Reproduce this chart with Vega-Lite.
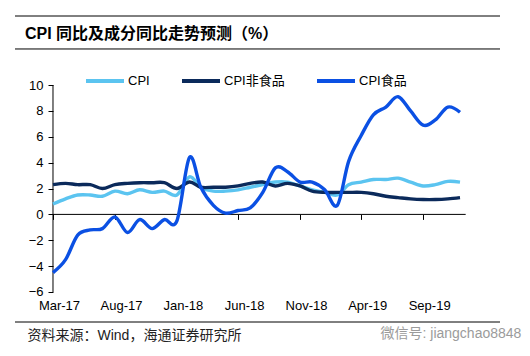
{
  "$schema": "https://vega.github.io/schema/vega-lite/v6.json",
  "width": 485,
  "height": 306,
  "autosize": {"type": "none"},
  "padding": {"left": 15, "top": 16, "right": 30, "bottom": 34},
  "background": "white",
  "config": {
    "view": {"stroke": null},
    "font": "Liberation Sans, Noto Sans CJK SC",
    "axis": {"labelOverlap": false}
  },
  "title": {
    "text": "CPI 同比及成分同比走势预测（%）",
    "anchor": "start",
    "frame": "group",
    "offset": -34,
    "dx": 10,
    "baseline": "middle",
    "fontSize": 16,
    "fontWeight": "bold",
    "font": "Liberation Sans, Noto Sans CJK SC",
    "color": "#000000"
  },
  "layer": [
    {
      "data": {"values": [{}]},
      "mark": {"type": "rule", "color": "#000000", "strokeWidth": 1},
      "encoding": {"y": {"datum": 15.34, "scale": {"domain": [-8.32, 15.34], "nice": false, "zero": false}}}
    },
    {
      "data": {"values": [{}]},
      "mark": {"type": "rule", "color": "#000000", "strokeWidth": 1},
      "encoding": {"y": {"datum": 12.79, "scale": {"domain": [-8.32, 15.34], "nice": false, "zero": false}}}
    },
    {
      "data": {"values": [{}]},
      "mark": {"type": "rule", "color": "#000000", "strokeWidth": 1},
      "encoding": {"y": {"datum": -8.32, "scale": {"domain": [-8.32, 15.34], "nice": false, "zero": false}}}
    },
    {
      "data": {"values": [{}]},
      "mark": {"type": "rule", "color": "#000000", "strokeWidth": 1},
      "encoding": {
        "x": {"datum": {"year": 2017, "month": 3, "date": 1, "utc": true}, "type": "temporal",
              "scale": {"type": "utc", "nice": false, "domain": [{"year": 2016, "month": 11, "date": 27, "hours": 5, "utc": true}, {"year": 2020, "month": 3, "date": 8, "hours": 18, "utc": true}]}},
        "y": {"datum": -6, "scale": {"domain": [-8.32, 15.34], "nice": false, "zero": false}},
        "y2": {"datum": 10}
      }
    },
    {
      "data": {"values": [{}]},
      "mark": {"type": "rule", "color": "#000000", "strokeWidth": 1},
      "encoding": {
        "x": {"datum": {"year": 2017, "month": 3, "date": 1, "utc": true}, "type": "temporal",
              "scale": {"type": "utc", "nice": false, "domain": [{"year": 2016, "month": 11, "date": 27, "hours": 5, "utc": true}, {"year": 2020, "month": 3, "date": 8, "hours": 18, "utc": true}]}},
        "x2": {"datum": {"year": 2019, "month": 12, "date": 15, "utc": true}},
        "y": {"datum": 0, "scale": {"domain": [-8.32, 15.34], "nice": false, "zero": false}}
      }
    },
    {
      "data": {"values": [
        {"month": "2017-03-01", "series": "CPI", "value": 0.8},
        {"month": "2017-04-01", "series": "CPI", "value": 1.2},
        {"month": "2017-05-01", "series": "CPI", "value": 1.5},
        {"month": "2017-06-01", "series": "CPI", "value": 1.5},
        {"month": "2017-07-01", "series": "CPI", "value": 1.4},
        {"month": "2017-08-01", "series": "CPI", "value": 1.8},
        {"month": "2017-09-01", "series": "CPI", "value": 1.6},
        {"month": "2017-10-01", "series": "CPI", "value": 1.9},
        {"month": "2017-11-01", "series": "CPI", "value": 1.7},
        {"month": "2017-12-01", "series": "CPI", "value": 1.8},
        {"month": "2018-01-01", "series": "CPI", "value": 1.5},
        {"month": "2018-02-01", "series": "CPI", "value": 2.9},
        {"month": "2018-03-01", "series": "CPI", "value": 2.1},
        {"month": "2018-04-01", "series": "CPI", "value": 1.8},
        {"month": "2018-05-01", "series": "CPI", "value": 1.8},
        {"month": "2018-06-01", "series": "CPI", "value": 1.9},
        {"month": "2018-07-01", "series": "CPI", "value": 2.1},
        {"month": "2018-08-01", "series": "CPI", "value": 2.3},
        {"month": "2018-09-01", "series": "CPI", "value": 2.5},
        {"month": "2018-10-01", "series": "CPI", "value": 2.5},
        {"month": "2018-11-01", "series": "CPI", "value": 2.2},
        {"month": "2018-12-01", "series": "CPI", "value": 1.9},
        {"month": "2019-01-01", "series": "CPI", "value": 1.7},
        {"month": "2019-02-01", "series": "CPI", "value": 1.5},
        {"month": "2019-03-01", "series": "CPI", "value": 2.3},
        {"month": "2019-04-01", "series": "CPI", "value": 2.5},
        {"month": "2019-05-01", "series": "CPI", "value": 2.7},
        {"month": "2019-06-01", "series": "CPI", "value": 2.7},
        {"month": "2019-07-01", "series": "CPI", "value": 2.8},
        {"month": "2019-08-01", "series": "CPI", "value": 2.5},
        {"month": "2019-09-01", "series": "CPI", "value": 2.2},
        {"month": "2019-10-01", "series": "CPI", "value": 2.3},
        {"month": "2019-11-01", "series": "CPI", "value": 2.55},
        {"month": "2019-12-01", "series": "CPI", "value": 2.5},
        {"month": "2017-03-01", "series": "CPI非食品", "value": 2.3},
        {"month": "2017-04-01", "series": "CPI非食品", "value": 2.4},
        {"month": "2017-05-01", "series": "CPI非食品", "value": 2.3},
        {"month": "2017-06-01", "series": "CPI非食品", "value": 2.3},
        {"month": "2017-07-01", "series": "CPI非食品", "value": 2.0},
        {"month": "2017-08-01", "series": "CPI非食品", "value": 2.3},
        {"month": "2017-09-01", "series": "CPI非食品", "value": 2.4},
        {"month": "2017-10-01", "series": "CPI非食品", "value": 2.45},
        {"month": "2017-11-01", "series": "CPI非食品", "value": 2.45},
        {"month": "2017-12-01", "series": "CPI非食品", "value": 2.45},
        {"month": "2018-01-01", "series": "CPI非食品", "value": 2.0},
        {"month": "2018-02-01", "series": "CPI非食品", "value": 2.5},
        {"month": "2018-03-01", "series": "CPI非食品", "value": 2.1},
        {"month": "2018-04-01", "series": "CPI非食品", "value": 2.1},
        {"month": "2018-05-01", "series": "CPI非食品", "value": 2.1},
        {"month": "2018-06-01", "series": "CPI非食品", "value": 2.2},
        {"month": "2018-07-01", "series": "CPI非食品", "value": 2.4},
        {"month": "2018-08-01", "series": "CPI非食品", "value": 2.5},
        {"month": "2018-09-01", "series": "CPI非食品", "value": 2.2},
        {"month": "2018-10-01", "series": "CPI非食品", "value": 2.4},
        {"month": "2018-11-01", "series": "CPI非食品", "value": 2.2},
        {"month": "2018-12-01", "series": "CPI非食品", "value": 1.8},
        {"month": "2019-01-01", "series": "CPI非食品", "value": 1.7},
        {"month": "2019-02-01", "series": "CPI非食品", "value": 1.7},
        {"month": "2019-03-01", "series": "CPI非食品", "value": 1.7},
        {"month": "2019-04-01", "series": "CPI非食品", "value": 1.7},
        {"month": "2019-05-01", "series": "CPI非食品", "value": 1.6},
        {"month": "2019-06-01", "series": "CPI非食品", "value": 1.4},
        {"month": "2019-07-01", "series": "CPI非食品", "value": 1.3},
        {"month": "2019-08-01", "series": "CPI非食品", "value": 1.2},
        {"month": "2019-09-01", "series": "CPI非食品", "value": 1.15},
        {"month": "2019-10-01", "series": "CPI非食品", "value": 1.15},
        {"month": "2019-11-01", "series": "CPI非食品", "value": 1.2},
        {"month": "2019-12-01", "series": "CPI非食品", "value": 1.3},
        {"month": "2017-03-01", "series": "CPI食品", "value": -4.5},
        {"month": "2017-04-01", "series": "CPI食品", "value": -3.5},
        {"month": "2017-05-01", "series": "CPI食品", "value": -1.6},
        {"month": "2017-06-01", "series": "CPI食品", "value": -1.2},
        {"month": "2017-07-01", "series": "CPI食品", "value": -1.1},
        {"month": "2017-08-01", "series": "CPI食品", "value": -0.2},
        {"month": "2017-09-01", "series": "CPI食品", "value": -1.4},
        {"month": "2017-10-01", "series": "CPI食品", "value": -0.4},
        {"month": "2017-11-01", "series": "CPI食品", "value": -1.1},
        {"month": "2017-12-01", "series": "CPI食品", "value": -0.4},
        {"month": "2018-01-01", "series": "CPI食品", "value": -0.5},
        {"month": "2018-02-01", "series": "CPI食品", "value": 4.4},
        {"month": "2018-03-01", "series": "CPI食品", "value": 2.1},
        {"month": "2018-04-01", "series": "CPI食品", "value": 0.7},
        {"month": "2018-05-01", "series": "CPI食品", "value": 0.1},
        {"month": "2018-06-01", "series": "CPI食品", "value": 0.3},
        {"month": "2018-07-01", "series": "CPI食品", "value": 0.5},
        {"month": "2018-08-01", "series": "CPI食品", "value": 1.7},
        {"month": "2018-09-01", "series": "CPI食品", "value": 3.6},
        {"month": "2018-10-01", "series": "CPI食品", "value": 3.3},
        {"month": "2018-11-01", "series": "CPI食品", "value": 2.5},
        {"month": "2018-12-01", "series": "CPI食品", "value": 2.5},
        {"month": "2019-01-01", "series": "CPI食品", "value": 1.9},
        {"month": "2019-02-01", "series": "CPI食品", "value": 0.7},
        {"month": "2019-03-01", "series": "CPI食品", "value": 4.1},
        {"month": "2019-04-01", "series": "CPI食品", "value": 6.1},
        {"month": "2019-05-01", "series": "CPI食品", "value": 7.7},
        {"month": "2019-06-01", "series": "CPI食品", "value": 8.3},
        {"month": "2019-07-01", "series": "CPI食品", "value": 9.1},
        {"month": "2019-08-01", "series": "CPI食品", "value": 8.0},
        {"month": "2019-09-01", "series": "CPI食品", "value": 6.9},
        {"month": "2019-10-01", "series": "CPI食品", "value": 7.3},
        {"month": "2019-11-01", "series": "CPI食品", "value": 8.3},
        {"month": "2019-12-01", "series": "CPI食品", "value": 7.9}
      ]},
      "mark": {"type": "line", "interpolate": "cardinal", "strokeWidth": 3.4},
      "encoding": {
        "x": {
          "field": "month", "type": "temporal",
          "scale": {"type": "utc", "nice": false, "domain": [{"year": 2016, "month": 11, "date": 27, "hours": 5, "utc": true}, {"year": 2020, "month": 3, "date": 8, "hours": 18, "utc": true}]},
          "axis": {
            "orient": "bottom",
            "offset": -107.6,
            "values": [
              {"year": 2017, "month": 3, "date": 1, "utc": true},
              {"year": 2017, "month": 8, "date": 1, "utc": true},
              {"year": 2018, "month": 1, "date": 1, "utc": true},
              {"year": 2018, "month": 6, "date": 1, "utc": true},
              {"year": 2018, "month": 11, "date": 1, "utc": true},
              {"year": 2019, "month": 4, "date": 1, "utc": true},
              {"year": 2019, "month": 9, "date": 1, "utc": true}
            ],
            "tickCount": 20,
            "labelExpr": "utcFormat(datum.value, '%b-%y')",
            "domain": false,
            "grid": false,
            "ticks": true,
            "tickSize": 5,
            "tickColor": "#000000",
            "tickWidth": 1,
            "labelPadding": 80,
            "labelOffset": 6,
            "labelFontSize": 13,
            "labelFont": "Liberation Sans",
            "labelColor": "#000000",
            "labelOverlap": false,
            "labelFlush": false,
            "labelBound": false,
            "title": "资料来源：Wind，海通证券研究所",
            "titleX": 12,
            "titleY": 121,
            "titleAnchor": "start",
            "titleAlign": "left",
            "titleBaseline": "middle",
            "titleFontSize": 14,
            "titleFontWeight": "normal",
            "titleFont": "Liberation Sans, Noto Sans CJK SC",
            "titleColor": "#222222"
          }
        },
        "y": {
          "field": "value", "type": "quantitative",
          "scale": {"domain": [-8.32, 15.34], "nice": false, "zero": false},
          "axis": {
            "orient": "left",
            "offset": -38,
            "values": [-6, -4, -2, 0, 2, 4, 6, 8, 10],
            "tickCount": 20,
            "domain": false,
            "grid": false,
            "ticks": true,
            "tickSize": 5,
            "tickColor": "#000000",
            "labelPadding": 5,
            "labelFontSize": 13,
            "labelFont": "Liberation Sans",
            "labelColor": "#000000",
            "labelOverlap": false,
            "labelBound": false,
            "labelFlush": false,
            "title": "微信号: jiangchao8848",
            "titleAngle": 0,
            "titleX": 327,
            "titleY": 317,
            "titleAlign": "left",
            "titleBaseline": "middle",
            "titleFontSize": 14,
            "titleFontWeight": "normal",
            "titleFont": "Liberation Sans, Noto Sans CJK SC",
            "titleColor": "#9b9b9b"
          }
        },
        "color": {
          "field": "series", "type": "nominal",
          "scale": {"domain": ["CPI", "CPI非食品", "CPI食品"], "range": ["#5bc4f0", "#0b2a5b", "#0b50e3"]},
          "legend": {
            "orient": "none",
            "legendX": 69,
            "legendY": 44,
            "direction": "horizontal",
            "title": null,
            "symbolType": "stroke",
            "symbolSize": 1444,
            "symbolStrokeWidth": 4,
            "labelFontSize": 13,
            "labelFont": "Liberation Sans, Noto Sans CJK SC",
            "labelColor": "#000000",
            "labelOffset": 2,
            "columnPadding": 24,
            "padding": 0
          }
        }
      }
    }
  ]
}
